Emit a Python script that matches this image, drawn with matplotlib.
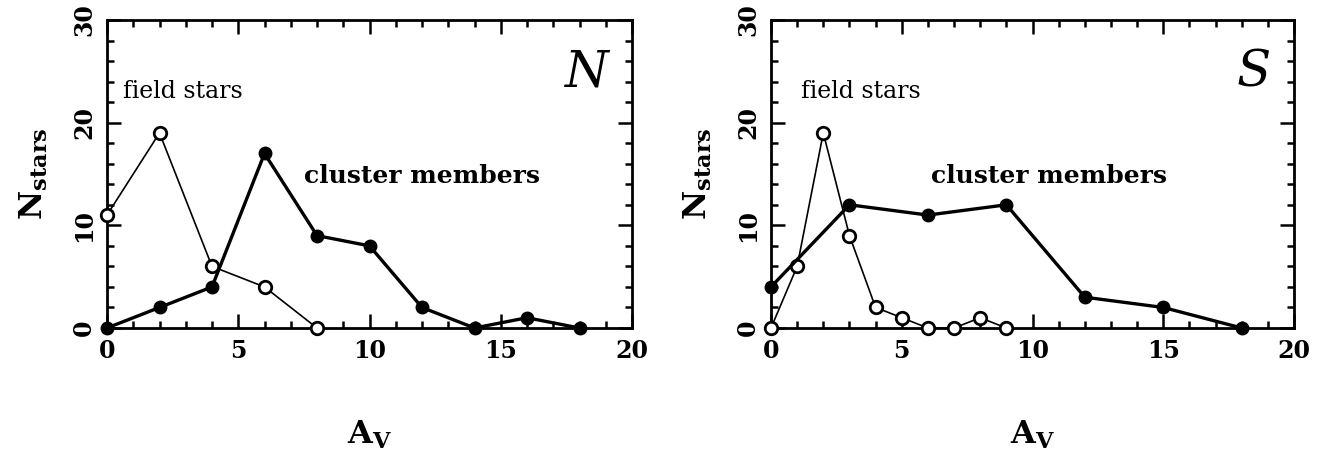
import matplotlib
matplotlib.use("Agg")
import matplotlib.pyplot as plt
from matplotlib.ticker import MultipleLocator

# Panel N
n_cluster_x = [0, 2, 4, 6, 8, 10, 12, 14, 16, 18]
n_cluster_y = [0, 2, 4, 17, 9, 8, 2, 0, 1, 0]
n_field_x = [0, 2, 4, 6, 8]
n_field_y = [11, 19, 6, 4, 0]

# Panel S
s_cluster_x = [0, 3, 6, 9, 12, 15, 18]
s_cluster_y = [4, 12, 11, 12, 3, 2, 0]
s_field_x = [0, 1, 2, 3, 4, 5, 6, 7, 8, 9]
s_field_y = [0, 6, 19, 9, 2, 1, 0, 0, 1, 0]

panel_labels = ["N", "S"]
x_ticks = [0, 5, 10, 15, 20]
y_ticks = [0, 10, 20, 30]

plt.rcParams['font.family'] = ['DejaVu Serif']
plt.rcParams['mathtext.fontset'] = 'dejavuserif'

fig = plt.figure(figsize=(13.31, 4.53), dpi=100)
axes = [fig.add_axes([107/1331, 125/453, 525/1331, 308/453]),
        fig.add_axes([771/1331, 125/453, 523/1331, 308/453])]

data = [(n_cluster_x, n_cluster_y, n_field_x, n_field_y, (0.6, 23), (7.5, 14.8)),
        (s_cluster_x, s_cluster_y, s_field_x, s_field_y, (1.15, 23), (6.1, 14.8))]

for ax, (cx, cy, fx, fy, fpos, cpos), lab in zip(axes, data, panel_labels):
    ax.plot(fx, fy, color='black', lw=1.2, marker='o', ms=9, mfc='white',
            mec='black', mew=2, zorder=3, clip_on=False)
    ax.plot(cx, cy, color='black', lw=2.4, marker='o', ms=9, mfc='black',
            mec='black', zorder=4, clip_on=False)
    ax.set_xlim(0, 20)
    ax.set_ylim(0, 30)
    ax.set_xticks(x_ticks)
    ax.set_yticks(y_ticks)
    ax.xaxis.set_minor_locator(MultipleLocator(1))
    ax.yaxis.set_minor_locator(MultipleLocator(2))
    ax.tick_params(which='both', direction='in', top=True, right=True, width=1.8)
    ax.tick_params(which='major', length=10, labelsize=17, pad=8)
    ax.tick_params(which='minor', length=5)
    for lbl in ax.get_xticklabels() + ax.get_yticklabels():
        lbl.set_fontweight('bold')
    for lbl in ax.get_yticklabels():
        lbl.set_rotation(90)
        lbl.set_va('center')
    for sp in ax.spines.values():
        sp.set_linewidth(2)
    ax.set_xlabel(r'$\mathbf{A_V}$', fontsize=23, labelpad=40)
    ax.set_ylabel(r'$\mathbf{N_{stars}}$', fontsize=23, labelpad=16)
    ax.text(fpos[0], fpos[1], 'field stars', fontsize=17, va='center', ha='left')
    ax.text(cpos[0], cpos[1], 'cluster members', fontsize=18, fontweight='bold',
            va='center', ha='left')
    ax.text(0.955, 0.83, lab, transform=ax.transAxes, fontsize=36,
            style='italic', ha='right', va='center')

fig.savefig('out.png', dpi=100)
